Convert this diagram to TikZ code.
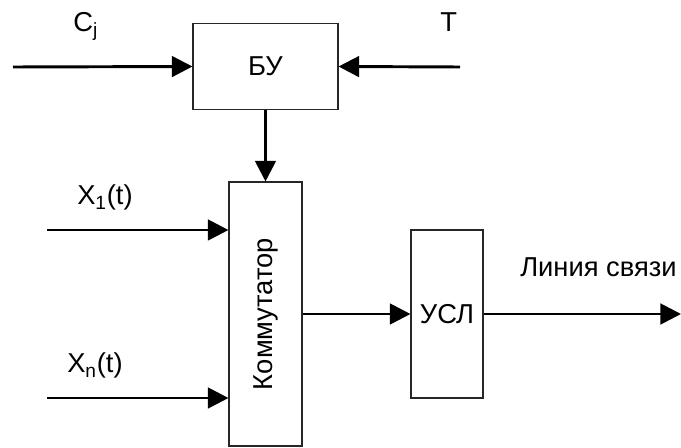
\documentclass[tikz,border=0pt]{standalone}
\usepackage{fontspec}
\setmainfont{Liberation Sans}
\usetikzlibrary{arrows.meta,positioning}

\begin{document}
\begin{tikzpicture}[
        x=0.75pt, y=-0.75pt,
        blok/.style={rectangle, draw=black!85, line width=0.8pt, inner sep=0pt, font=\fontsize{20.5}{24}\selectfont},
        sig/.style={line width=2.2pt, -{Triangle[length=15.5pt, width=15.5pt]}},
        lbl/.style={anchor=base west, inner sep=0pt, font=\fontsize{20.5}{24}\selectfont},
    ]
        \useasboundingbox (0, 0) rectangle (681, 448);

        % Blocks
        \node[blok, minimum width=108.75pt, minimum height=65pt] (BU) at (265.5, 66.5) {БУ};
        \node[blok, minimum width=54.75pt, minimum height=198pt] (KOMM) at (265.5, 314) {\rotatebox{90}{Коммутатор}};
        \node[blok, minimum width=54pt, minimum height=126pt] (USL) at (447, 314) {УСЛ};

        % Free ends of the input and output lines
        \coordinate (CIN) at (13, 67);
        \coordinate (TIN) at (460, 67);
        \coordinate (X1IN) at (47, 230);
        \coordinate (XNIN) at (47, 398);
        \coordinate (OUT) at (681, 314);

        % Connectors
        \draw[sig] (CIN) -- (BU.west);
        \draw[sig] (TIN) -- (BU.east);
        \draw[sig] (BU.south) -- (KOMM.north);
        \draw[sig] (X1IN) -- (X1IN -| KOMM.west);
        \draw[sig] (XNIN) -- (XNIN -| KOMM.west);
        \draw[sig] (KOMM.east) -- (USL.west);
        \draw[sig] (USL.east) -- (OUT);

        % Labels
        \node[lbl] (CLBL) at (73, 32) {C\textsubscript{j}};
        \node[lbl] (TLBL) at (440, 32) {T};
        \node[lbl] (X1LBL) at (77, 205) {X\textsubscript{1}(t)};
        \node[lbl] (XNLBL) at (67, 373) {X\textsubscript{n}(t)};
        \node[lbl] (LINLBL) at (520, 277) {Линия связи};
    \end{tikzpicture}
\end{document}
